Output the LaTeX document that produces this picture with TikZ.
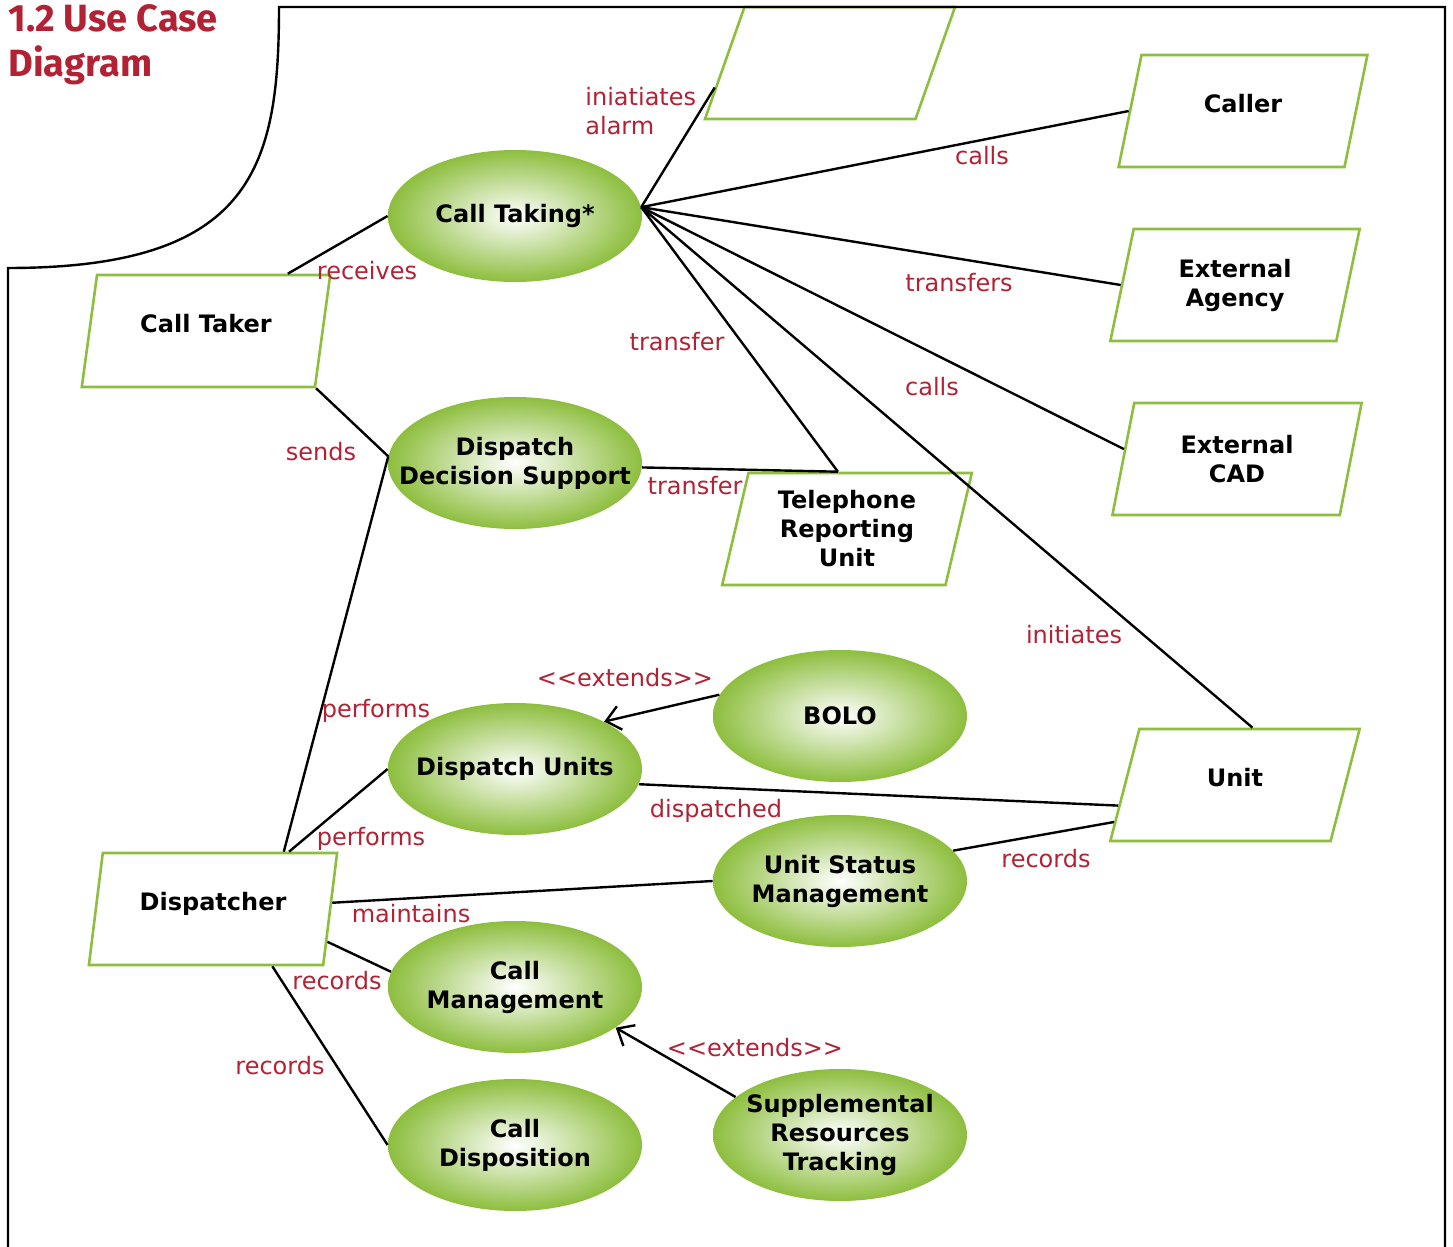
\documentclass[tikz,border=0pt]{standalone}
\usepackage{fontspec}
\setmainfont{DejaVu Sans}
\newfontfamily\titlefont{Fira Sans}
\usetikzlibrary{shapes.geometric,arrows.meta}
\definecolor{ucgreen}{RGB}{141,190,62}
\definecolor{ucred}{RGB}{178,34,52}
\tikzset{
  usecase/.style={ellipse,minimum width=127pt,minimum height=66pt,inner xsep=-15pt,inner ysep=0pt,
    inner color=white,outer color=ucgreen,align=center,
    font=\bfseries\fontsize{12}{14.5}\selectfont},
  actor/.style={trapezium,trapezium left angle=77,trapezium right angle=103,
    trapezium stretches=true,draw=ucgreen,line width=1.3pt,fill=white,
    minimum width=125pt,minimum height=56pt,inner sep=2pt,align=center,
    font=\bfseries\fontsize{12}{14.5}\selectfont},
  rel/.style={text=ucred,inner sep=1pt,font=\fontsize{12}{14.5}\selectfont},
  assoc/.style={line width=1.2pt},
  extends/.style={line width=1.2pt,-{Straight Barb[length=7pt,width=12pt]}}
}
\begin{document}
\begin{tikzpicture}[x=0.5pt,y=-0.5pt]
\useasboundingbox (0,0) rectangle (1453,1247);
\node[anchor=north west,inner sep=0pt,align=left,text=ucred,
  font=\titlefont\bfseries\fontsize{19}{22.5}\selectfont] (title) at (8,4) {1.2 Use Case\\Diagram};

\node[usecase] (ctg) at (515,216) {Call Taking*};
\node[usecase] (dds) at (515,463) {Dispatch\\Decision Support};
\node[usecase] (du) at (515,769) {Dispatch Units};
\node[usecase] (bolo) at (840,716) {BOLO};
\node[usecase] (usm) at (840,881) {Unit Status\\Management};
\node[usecase] (cm) at (515,987) {Call\\Management};
\node[usecase] (cd) at (515,1145) {Call\\Disposition};
\node[usecase] (srt) at (840,1135) {Supplemental\\Resources\\Tracking};

\node[actor] (alarm) at (830,63) {};
\node[actor,text depth=8pt] (caller) at (1243,111) {Caller};
\node[actor] (agency) at (1235,285) {External\\Agency};
\node[actor] (cad) at (1237,459) {External\\CAD};
\node[actor] (tru) at (847,529) {Telephone\\Reporting\\Unit};
\node[actor,text depth=8pt] (ctk) at (206,331) {Call Taker};
\node[actor,text depth=8pt] (unit) at (1235,785) {Unit};
\node[actor,text depth=8pt] (disp) at (213,909) {Dispatcher};

\draw[assoc] (ctk.35) -- (ctg.west);
\draw[assoc] (ctk.bottom right corner) -- (dds.177);
\draw[assoc] (ctg.4) -- (alarm.192);
\draw[assoc] (ctg.4) -- (caller.west);
\draw[assoc] (ctg.4) -- (agency.west);
\draw[assoc] (ctg.4) -- (cad.175);
\draw[assoc] (ctg.4) -- (tru.99);
\draw[assoc] (ctg.4) -- (unit.73);
\draw[assoc] (dds.-2) -- (tru.99);
\draw[assoc] (disp.39) -- (dds.177);
\draw[assoc] (disp.37) -- (du.west);
\draw[assoc] (du.-7) -- (unit.190);
\draw[extends] (bolo.170) -- (du.28);
\draw[assoc] (usm.15) -- (unit.197);
\draw[assoc] (disp.3) -- (usm.west);
\draw[assoc] (disp.-16) -- (cm.173);
\draw[assoc] (disp.-44.5) -- (cd.west);
\draw[extends] (srt.160) -- (cm.-22);

\node[rel,align=left,anchor=west] (lalarm) at (583,111) {iniatiates\\alarm};
\node[rel] (lreceives) at (367,271) {receives};
\node[rel] (lsends) at (321,452) {sends};
\node[rel] (lcalls) at (982,156) {calls};
\node[rel] (ltransfers) at (959,283) {transfers};
\node[rel] (ltransfer) at (677,342) {transfer};
\node[rel] (lcallscad) at (932,387) {calls};
\node[rel] (ltransfertru) at (695,486) {transfer};
\node[rel] (linitiates) at (1074,635) {initiates};
\node[rel] (lextbolo) at (625,678) {<{}<extends>{}>};
\node[rel] (lperforms) at (376,711) {performs};
\node[rel] (ldispatched) at (716,811) {dispatched};
\node[rel] (lperformsdu) at (371,839) {performs};
\node[rel] (lrecordsunit) at (1046,859) {records};
\node[rel] (lmaintains) at (411,914) {maintains};
\node[rel] (lrecordscm) at (337,981) {records};
\node[rel] (lrecordscd) at (280,1066) {records};
\node[rel] (lextsrt) at (755,1048) {<{}<extends>{}>};

\draw[line width=1.2pt] (8,1247) -- (8,268) .. controls (252,268) and (279,168) .. (279,7)
  -- (1445,7) -- (1445,1247);
\end{tikzpicture}
\end{document}
